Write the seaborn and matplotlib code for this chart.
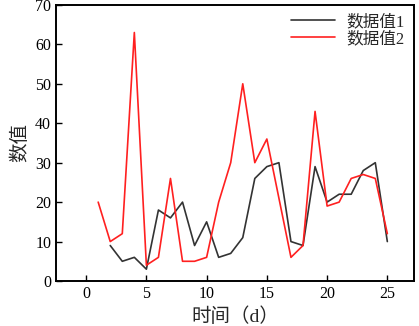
import matplotlib
matplotlib.use("Agg")
import matplotlib.pyplot as plt
import seaborn as sns
import pandas as pd

days1 = list(range(2, 26))
values1 = [9, 5, 6, 3, 18, 16, 20, 9, 15, 6, 7, 11, 26, 29, 30, 10, 9, 29, 20, 22, 22, 28, 30, 10]
days2 = list(range(1, 26))
values2 = [20, 10, 12, 63, 4, 6, 26, 5, 5, 6, 20, 30, 50, 30, 36, 21, 6, 9, 43, 19, 20, 26, 27, 26, 12]
series_names = ["数据值1", "数据值2"]
x_ticks = [0, 5, 10, 15, 20, 25]
y_ticks = [0, 10, 20, 30, 40, 50, 60, 70]

df = pd.concat([
    pd.DataFrame({"day": days1, "value": values1, "series": series_names[0]}),
    pd.DataFrame({"day": days2, "value": values2, "series": series_names[1]}),
], ignore_index=True)

sns.set_theme(style="ticks")
plt.rcParams['font.family'] = ['Liberation Serif', 'Noto Sans CJK SC']
plt.rcParams['axes.unicode_minus'] = False

fig = plt.figure(figsize=(4.19, 3.26), dpi=100)
ax = fig.add_axes([0.1337, 0.138, 0.854, 0.847])
sns.lineplot(data=df, x="day", y="value", hue="series",
             palette={series_names[0]: "#333333", series_names[1]: "#ff2020"},
             linewidth=1.2, ax=ax, legend=True)

ax.set_xlim(-2.5, 27.2)
ax.set_ylim(0, 70)
ax.set_xticks(x_ticks)
ax.set_yticks(y_ticks)
ax.tick_params(direction="in", length=4, width=1.0, labelsize=11.5, colors="black")
for sp in ax.spines.values():
    sp.set_linewidth(1.4)
    sp.set_color("black")
ax.set_xlabel("时间（d）", fontsize=14)
ax.set_ylabel("数值", fontsize=14)
leg = ax.legend(frameon=False, loc="upper right", fontsize=12, handlelength=2.6,
                borderaxespad=0.15, labelspacing=0.05, handletextpad=0.7)
fig.savefig("out.png", dpi=100)
